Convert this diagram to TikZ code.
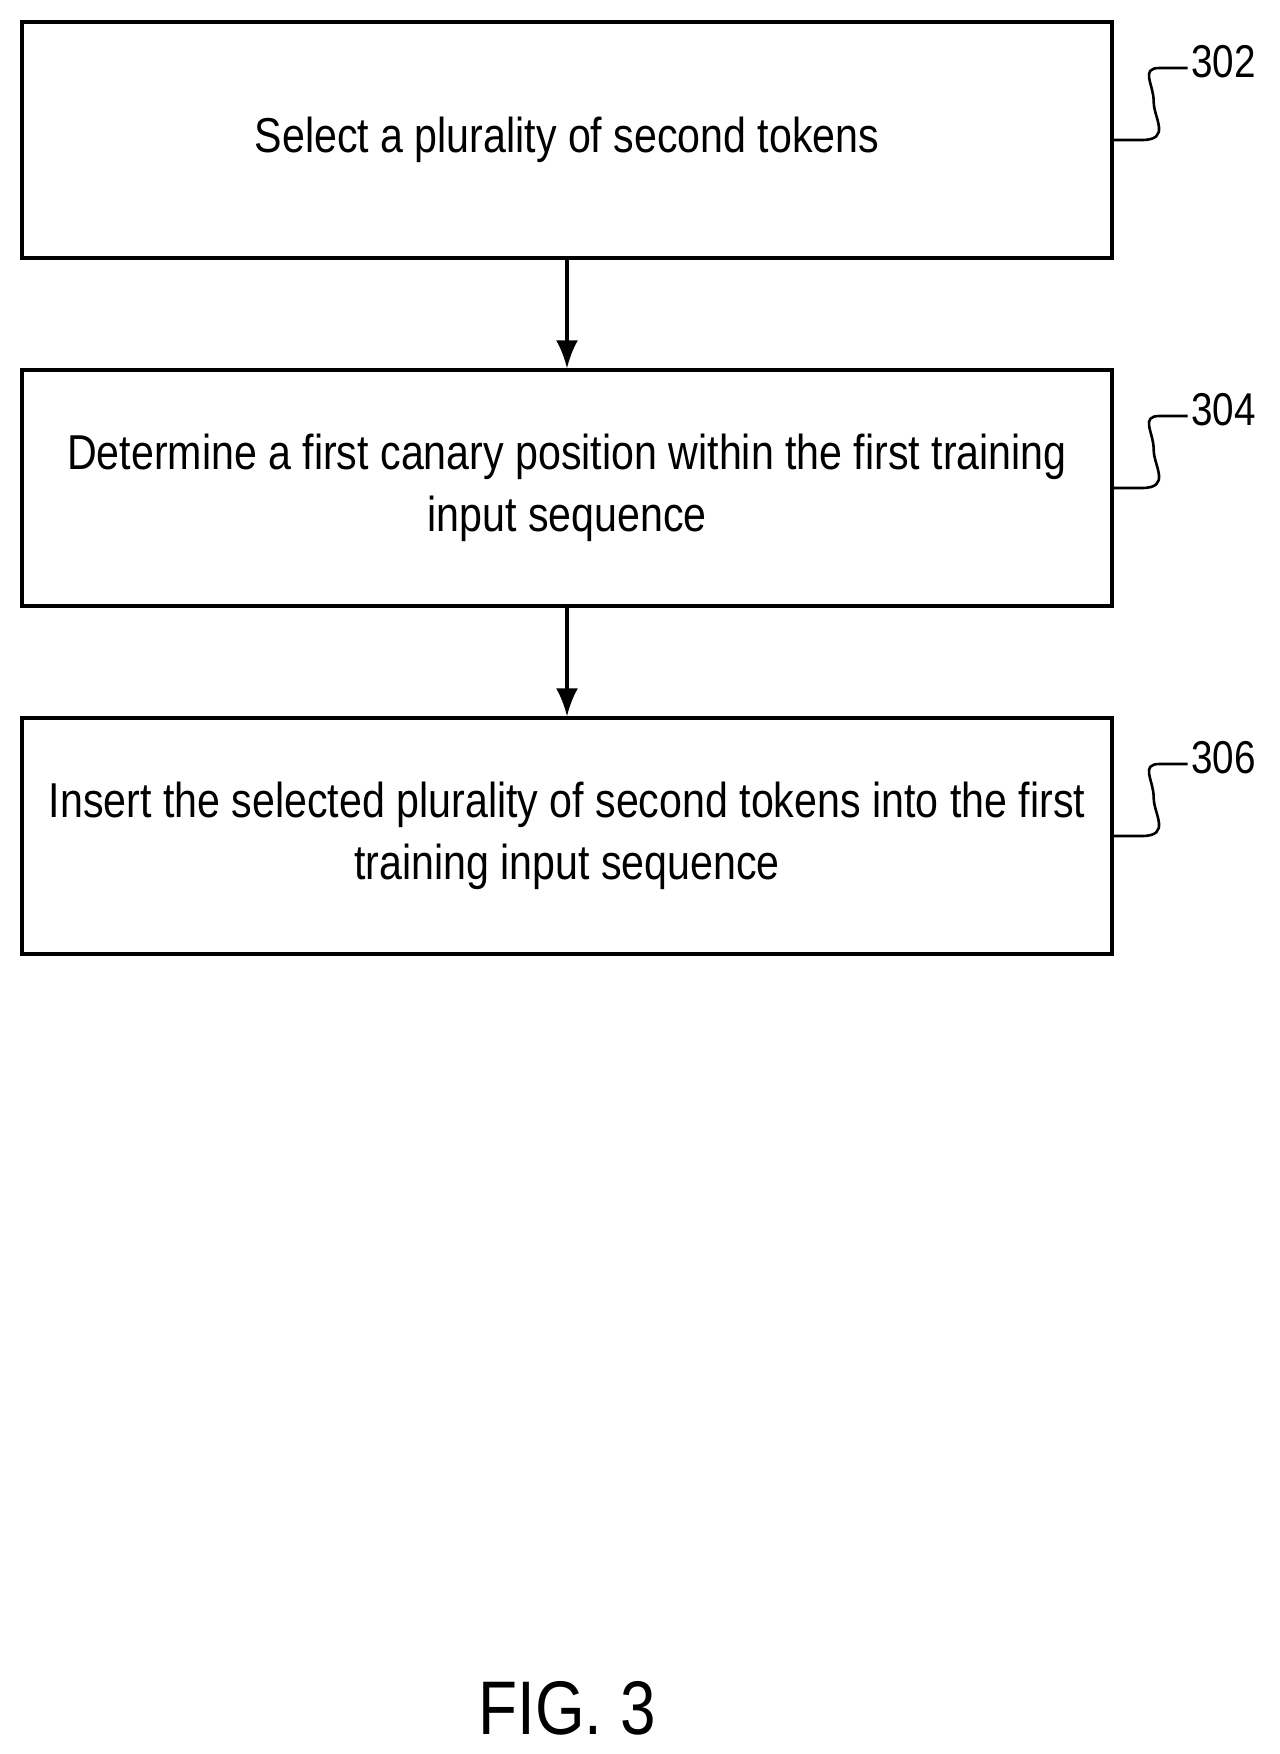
\documentclass[tikz,border=0pt]{standalone}
\usepackage{fontspec}
\setmainfont{Liberation Sans}[FakeStretch=0.84]
\usetikzlibrary{arrows.meta}
\begin{document}
\begin{tikzpicture}[x=1pt,y=-1pt,
  stepbox/.style={draw,line width=3.4pt,minimum width=1090pt,minimum height=236pt,align=center,font=\fontsize{49}{62}\selectfont},
  flow/.style={line width=3.2pt,-{Latex[length=28pt,width=22pt]}},
  tag/.style={font=\fontsize{46}{46}\selectfont,anchor=west}]
\useasboundingbox (0,0) rectangle (1280,1754);
\node[stepbox] (s302) at (567,140) {Select a plurality of second tokens};
\node[stepbox] (s304) at (567,488) {Determine a first canary position within the first training\\input sequence};
\node[stepbox] (s306) at (567,836) {Insert the selected plurality of second tokens into the first\\training input sequence};
\draw[flow] (s302) -- (s304);
\draw[flow] (s304) -- (s306);
% reference numerals
\foreach \s/\n in {s302/302,s304/304,s306/306}{
  \draw[line width=2.6pt] (\s.east) -- ++(28,0) .. controls ++(30,0) and ++(0,16) .. ++(12,-38)
    .. controls ++(0,-18) and ++(-20,0) .. ++(6,-34) -- ++(28,0) coordinate (\n c);
  \node[tag] (t\n) at ([xshift=0pt,yshift=6pt]\n c) {\n};
}
\node[font=\fontsize{76}{76}\selectfont] (fig) at (567,1708) {FIG. 3};
\end{tikzpicture}
\end{document}
